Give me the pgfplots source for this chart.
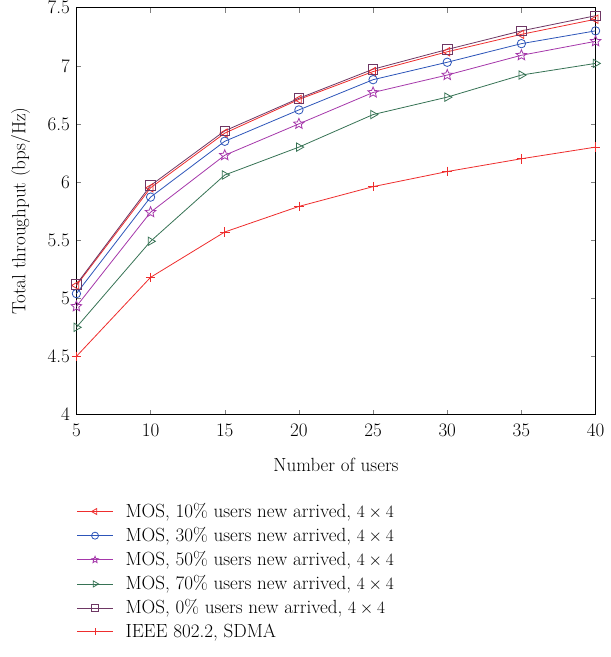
\documentclass[border=0pt]{standalone}
\usepackage{fontspec}
\usepackage{pgfplots}
\pgfplotsset{compat=1.18}
\definecolor{cred}{RGB}{238,45,45}
\definecolor{cblue}{RGB}{45,85,185}
\definecolor{cmag}{RGB}{165,55,170}
\definecolor{cgreen}{RGB}{55,115,85}
\definecolor{cplum}{RGB}{110,55,100}
% outlined five-point star
\pgfdeclareplotmark{ostar}{%
  \pgfpathmoveto{\pgfpointpolar{90}{\pgfplotmarksize}}%
  \pgfpathlineto{\pgfpointpolar{126}{0.45\pgfplotmarksize}}%
  \pgfpathlineto{\pgfpointpolar{162}{\pgfplotmarksize}}%
  \pgfpathlineto{\pgfpointpolar{198}{0.45\pgfplotmarksize}}%
  \pgfpathlineto{\pgfpointpolar{234}{\pgfplotmarksize}}%
  \pgfpathlineto{\pgfpointpolar{270}{0.45\pgfplotmarksize}}%
  \pgfpathlineto{\pgfpointpolar{306}{\pgfplotmarksize}}%
  \pgfpathlineto{\pgfpointpolar{342}{0.45\pgfplotmarksize}}%
  \pgfpathlineto{\pgfpointpolar{18}{\pgfplotmarksize}}%
  \pgfpathlineto{\pgfpointpolar{54}{0.45\pgfplotmarksize}}%
  \pgfpathclose
  \pgfusepathqstroke}
\begin{document}
\fontsize{19}{23}\selectfont
\begin{tikzpicture}
\begin{axis}[
    width=518pt, height=406pt,
    scale only axis,
    xmin=5, xmax=40, ymin=4, ymax=7.5,
    xtick={5,10,...,40},
    ytick={4,4.5,...,7.5},
    yticklabels={4,4.5,5,5.5,6,6.5,7,7.5},
    tick align=inside,
    major tick length=5pt,
    /pgf/number format/assume math mode=true,
    xlabel={Number of users},
    ylabel={Total throughput (bps/Hz)},
    every axis label/.append style={font=\fontsize{19}{23}\selectfont},
    tick label style={font=\fontsize{19}{23}\selectfont, inner ysep=1pt},
    xticklabel style={yshift=-8pt},
    xlabel style={yshift=-14pt},
    ylabel style={inner ysep=11pt, yshift=0pt},
    legend style={at={(0,-0.175)}, anchor=north west, draw=none, fill=none,
        font=\fontsize{19}{23}\selectfont, row sep=3pt, inner xsep=0pt,
        inner ysep=15pt, column sep=10pt, legend cell align=left},
    legend image code/.code={
        \draw[mark repeat=2,mark phase=2,mark size=3.5pt]
          plot coordinates {(0pt,0pt) (18pt,0pt) (36pt,0pt)};},
    every axis plot/.append style={line width=0.8pt, mark size=4.8pt},
]
\addplot[cred, mark=triangle, mark options={rotate=90}] coordinates {
(5,5.11) (10,5.95) (15,6.42) (20,6.71) (25,6.95) (30,7.12) (35,7.27) (40,7.40)};
\addplot[cblue, mark=o, mark size=4.2pt] coordinates {
(5,5.04) (10,5.87) (15,6.35) (20,6.62) (25,6.88) (30,7.03) (35,7.19) (40,7.30)};
\addplot[cmag, mark=ostar, mark size=5.5pt] coordinates {
(5,4.93) (10,5.74) (15,6.23) (20,6.50) (25,6.77) (30,6.92) (35,7.09) (40,7.21)};
\addplot[cgreen, mark=triangle, mark options={rotate=-90}] coordinates {
(5,4.75) (10,5.49) (15,6.06) (20,6.30) (25,6.58) (30,6.73) (35,6.92) (40,7.02)};
\addplot[cplum, mark=square] coordinates {
(5,5.12) (10,5.97) (15,6.44) (20,6.72) (25,6.97) (30,7.14) (35,7.30) (40,7.43)};
\addplot[cred, mark=+] coordinates {
(5,4.50) (10,5.18) (15,5.57) (20,5.79) (25,5.96) (30,6.09) (35,6.20) (40,6.30)};
\legend{{MOS, 10\% users new arrived, $4\times4$},
        {MOS, 30\% users new arrived, $4\times4$},
        {MOS, 50\% users new arrived, $4\times4$},
        {MOS, 70\% users new arrived, $4\times4$},
        {MOS, 0\% users new arrived, $4\times4$},
        {IEEE 802.2, SDMA}}
\end{axis}
\end{tikzpicture}
\end{document}
